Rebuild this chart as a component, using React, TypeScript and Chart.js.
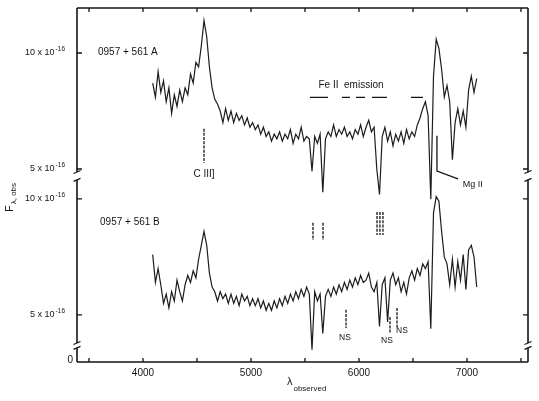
import React, { useEffect, useRef } from 'react';
import { Chart, registerables } from 'chart.js';

Chart.register(...registerables);

// ---------- data (flux in units of 1e-16, wavelength in Å) ----------
const LAMBDA = [
  4090, 4115, 4140, 4165, 4190, 4215, 4240, 4265, 4290, 4315,
  4340, 4365, 4390, 4415, 4440, 4465, 4490, 4515, 4540, 4565,
  4590, 4615, 4640, 4665, 4690, 4715, 4740, 4765, 4790, 4815,
  4840, 4865, 4890, 4915, 4940, 4965, 4990, 5015, 5040, 5065,
  5090, 5115, 5140, 5165, 5190, 5215, 5240, 5265, 5290, 5315,
  5340, 5365, 5390, 5415, 5440, 5465, 5490, 5515, 5540, 5565,
  5590, 5615, 5640, 5665, 5690, 5715, 5740, 5765, 5790, 5815,
  5840, 5865, 5890, 5915, 5940, 5965, 5990, 6015, 6040, 6065,
  6090, 6115, 6140, 6165, 6190, 6215, 6240, 6265, 6290, 6315,
  6340, 6365, 6390, 6415, 6440, 6465, 6490, 6515, 6540, 6565,
  6590, 6615, 6640, 6665, 6690, 6715, 6740, 6765, 6790, 6815,
  6840, 6865, 6890, 6915, 6940, 6965, 6990, 7015, 7040, 7065,
  7090,
];

// 0957+561 A (upper panel)
const FLUX_A = [
  8.7, 8.1, 9.2, 8.3, 8.8, 7.9, 8.5, 7.4, 8.2, 7.7,
  8.4, 7.9, 8.5, 8.2, 9.1, 8.7, 9.6, 9.4, 10.3, 11.4,
  10.7, 9.4, 8.5, 8.0, 7.8, 7.5, 7.0, 7.6, 7.1, 7.5,
  7.0, 7.4, 7.1, 7.3, 6.9, 7.2, 6.8, 7.0, 6.7, 6.9,
  6.5, 6.8, 6.4, 6.6, 6.2, 6.5, 6.3, 6.6, 6.2, 6.5,
  6.3, 6.7, 6.1, 6.5, 6.3, 6.8, 6.2, 6.4, 6.3, 4.9,
  6.4, 6.1, 6.5, 4.0, 6.3, 6.6, 6.4, 6.9, 6.4, 6.7,
  6.5, 6.8, 6.4, 6.6, 6.3, 6.7, 6.5, 6.9, 6.4, 6.8,
  7.1, 6.6, 6.8, 5.0, 3.9, 6.4, 6.8, 6.2, 6.6, 6.0,
  6.5, 6.2, 6.6, 6.1, 6.7, 6.3, 6.6, 6.4, 6.9, 7.2,
  7.6, 7.9, 7.3, 3.7, 9.0, 10.6, 10.2, 9.3, 8.1, 8.6,
  7.9, 5.4, 7.0, 7.6, 6.9, 7.5, 6.8, 8.4, 9.0, 8.3,
  8.9,
];

// 0957+561 B (lower panel)
const FLUX_B = [
  7.6, 6.4, 7.0, 6.3, 5.5, 5.9, 5.3, 6.0, 5.6, 6.5,
  6.0, 5.6, 6.3, 6.7, 6.4, 6.9, 6.6, 7.4, 8.0, 8.6,
  8.0, 6.8, 6.2, 6.0, 5.6, 6.0, 5.7, 5.9, 5.5, 5.9,
  5.5, 5.8, 5.4, 5.9, 5.6, 5.8, 5.4, 5.7, 5.4, 5.7,
  5.3, 5.6, 5.2, 5.5, 5.2, 5.6, 5.3, 5.7, 5.4, 5.8,
  5.5, 5.9, 5.6, 6.0, 5.7, 6.1, 5.8, 6.2, 5.9, 3.5,
  6.0, 5.6, 5.9, 4.2, 5.8, 6.1, 5.8, 6.2, 5.9, 6.3,
  6.0, 6.4, 6.1, 6.5, 6.2, 6.6, 6.3, 6.7, 6.4, 6.5,
  6.8, 6.2, 6.0, 6.4, 4.5, 6.3, 6.6, 4.7, 6.5, 6.8,
  6.3, 6.6, 6.0, 6.4, 5.9, 6.6, 6.9, 6.5, 7.0, 6.7,
  7.2, 7.0, 7.3, 4.4, 9.4, 10.1, 9.9, 8.6, 7.5, 7.2,
  6.3, 7.4, 6.2, 7.3, 6.5, 7.6, 6.1, 7.8, 8.0, 7.5,
  6.2,
];

// axis definitions
const X_MIN = 3389;
const X_MAX = 7565;
const X_TICKS = [3500, 4000, 4500, 5000, 5500, 6000, 6500, 7000, 7500];
const X_LABELS = [4000, 5000, 6000, 7000];
const Y_TICKS = [5, 10]; // per panel, units of 1e-16
const PANEL_A_SHIFT = 6.29; // upper panel drawn above lower on a shared broken axis
const ZERO_AT = 2.97; // where the broken axis shows "0" for the lower panel
const Y_TOP = 18.23;
const AXIS_GAPS = [[10.82, 11.16], [3.58, 3.79]];

// annotations (x in Å, y in flux of the given panel)
const PANEL_NAMES = [
  { text: '0957 + 561 A', panel: 'A', x: 3583, y: 10.04 },
  { text: '0957 + 561 B', panel: 'B', x: 3602, y: 9.0 },
];
const FE_TEXT = { text: 'Fe II  emission', panel: 'A', x: 5926, y: 8.6 };
const FE_BLENDS = [[5546, 5713], [5843, 5917], [5972, 6056], [6120, 6259], [6481, 6593]];
const FE_BLEND_Y = 8.09;
const CIII_MARK = { x: 4565, y0: 6.74, y1: 5.26, label: 'C III]', ly: 4.78 };
const MGII_MARK = { x: 6722, y0: 6.43, y1: 4.91, x2: 6917, y2: 4.57, label: 'Mg II', lx: 6960, ly: 4.35 };
const B_ABS_MARKS = [
  { x: 5574, y0: 8.97, y1: 8.23 },
  { x: 5667, y0: 8.97, y1: 8.23 },
  { x: 6167, y0: 9.44, y1: 8.45 },
  { x: 6194, y0: 9.44, y1: 8.45 },
  { x: 6222, y0: 9.44, y1: 8.45 },
];
const NS_MARKS = [
  { x: 5880, y0: 5.22, y1: 4.44, lx: 5870, ly: 4.02 },
  { x: 6287, y0: 4.91, y1: 4.22, lx: 6259, ly: 3.9 },
  { x: 6352, y0: 5.3, y1: 4.48, lx: 6398, ly: 4.3 },
];

const FONT = '"Liberation Sans", "DejaVu Sans", sans-serif';
const INK = '#141414';

const decor = {
  id: 'decor',
  afterDraw(chart: any) {
    const { ctx, chartArea: ca, scales } = chart;
    const xs = scales.x;
    const ys = scales.y;
    const X = (l: number) => xs.getPixelForValue(l);
    const Yd = (d: number) => ys.getPixelForValue(d);
    const YP = (panel: string, v: number) => Yd(panel === 'A' ? v + PANEL_A_SHIFT : v);

    ctx.save();
    ctx.strokeStyle = INK;
    ctx.fillStyle = INK;
    ctx.lineCap = 'butt';

    // frame with broken vertical axes
    ctx.lineWidth = 1.6;
    ctx.beginPath();
    ctx.moveTo(ca.left, ca.top); ctx.lineTo(ca.right, ca.top);
    ctx.moveTo(ca.left, ca.bottom); ctx.lineTo(ca.right, ca.bottom);
    ctx.stroke();
    const segs: number[][] = [];
    let start = ca.top;
    AXIS_GAPS.forEach(([lo, hi]) => {
      segs.push([start, Yd(hi)]);
      start = Yd(lo);
    });
    segs.push([start, ca.bottom]);
    [ca.left, ca.right].forEach((x) => {
      ctx.beginPath();
      segs.forEach(([a, b]) => { ctx.moveTo(x, a); ctx.lineTo(x, b); });
      ctx.stroke();
      ctx.lineWidth = 1.2;
      ctx.beginPath();
      AXIS_GAPS.forEach(([lo, hi]) => {
        [Yd(lo), Yd(hi)].forEach((y) => {
          ctx.moveTo(x - 3.5, y + 1.5); ctx.lineTo(x + 3.5, y - 1.5);
        });
      });
      ctx.stroke();
      ctx.lineWidth = 1.6;
    });

    // inward ticks
    ctx.lineWidth = 1.3;
    ctx.beginPath();
    X_TICKS.forEach((t) => {
      const x = X(t);
      ctx.moveTo(x, ca.bottom); ctx.lineTo(x, ca.bottom - 4);
      ctx.moveTo(x, ca.top); ctx.lineTo(x, ca.top + 4);
    });
    const yTickPix: number[] = [];
    Y_TICKS.forEach((v) => { yTickPix.push(YP('A', v)); yTickPix.push(YP('B', v)); });
    yTickPix.forEach((y) => {
      ctx.moveTo(ca.left, y); ctx.lineTo(ca.left + 5, y);
      ctx.moveTo(ca.right, y); ctx.lineTo(ca.right - 5, y);
    });
    ctx.stroke();

    // y tick labels
    const supLabel = (main: string, sup: string, xr: number, y: number) => {
      ctx.font = `9px ${FONT}`;
      const w1 = ctx.measureText(main).width;
      ctx.font = `6.5px ${FONT}`;
      const w2 = ctx.measureText(sup).width;
      const x0 = xr - w1 - w2 - 1;
      ctx.textAlign = 'left';
      ctx.textBaseline = 'middle';
      ctx.font = `9px ${FONT}`;
      ctx.fillText(main, x0, y);
      ctx.font = `6.5px ${FONT}`;
      ctx.fillText(sup, x0 + w1 + 1, y - 3.5);
    };
    ['A', 'B'].forEach((p) => {
      Y_TICKS.forEach((v) => {
        supLabel(`${v} x 10`, '-16', ca.left - 12, YP(p, v));
      });
    });
    ctx.font = `10px ${FONT}`;
    ctx.textAlign = 'right';
    ctx.textBaseline = 'middle';
    ctx.fillText('0', ca.left - 4, Yd(ZERO_AT) - 2);

    // y axis title (rotated)
    ctx.save();
    ctx.translate(13, 212);
    ctx.rotate(-Math.PI / 2);
    ctx.textAlign = 'left';
    ctx.textBaseline = 'alphabetic';
    ctx.font = `11px ${FONT}`;
    ctx.fillText('F', 0, 0);
    const fw = ctx.measureText('F').width;
    ctx.font = `8px ${FONT}`;
    ctx.fillText('λ, obs', fw + 1, 3);
    ctx.restore();

    // x axis title
    ctx.textAlign = 'left';
    ctx.textBaseline = 'alphabetic';
    ctx.font = `11px ${FONT}`;
    const lx = X(5333);
    ctx.fillText('λ', lx, ca.bottom + 23);
    const lw = ctx.measureText('λ').width;
    ctx.font = `8px ${FONT}`;
    ctx.fillText('observed', lx + lw + 1, ca.bottom + 29);

    // panel names
    ctx.font = `10px ${FONT}`;
    ctx.textBaseline = 'middle';
    PANEL_NAMES.forEach((n) => ctx.fillText(n.text, X(n.x), YP(n.panel, n.y)));

    // Fe II emission
    ctx.textAlign = 'center';
    ctx.font = `10px ${FONT}`;
    ctx.fillText(FE_TEXT.text, X(FE_TEXT.x), YP(FE_TEXT.panel, FE_TEXT.y));
    ctx.lineWidth = 1.3;
    ctx.beginPath();
    FE_BLENDS.forEach(([a, b]) => {
      const y = YP('A', FE_BLEND_Y);
      ctx.moveTo(X(a), y); ctx.lineTo(X(b), y);
    });
    ctx.stroke();

    // dashed vertical markers
    const vmark = (panel: string, x: number, y0: number, y1: number) => {
      ctx.setLineDash([3, 1.2]);
      ctx.lineWidth = 1.3;
      ctx.beginPath();
      ctx.moveTo(X(x), YP(panel, y0));
      ctx.lineTo(X(x), YP(panel, y1));
      ctx.stroke();
      ctx.setLineDash([]);
    };
    vmark('A', CIII_MARK.x, CIII_MARK.y0, CIII_MARK.y1);
    ctx.font = `10px ${FONT}`;
    ctx.textAlign = 'center';
    ctx.fillText(CIII_MARK.label, X(CIII_MARK.x), YP('A', CIII_MARK.ly));

    B_ABS_MARKS.forEach((m) => vmark('B', m.x, m.y0, m.y1));
    NS_MARKS.forEach((m) => {
      vmark('B', m.x, m.y0, m.y1);
      ctx.font = `8.5px ${FONT}`;
      ctx.textAlign = 'center';
      ctx.fillText('NS', X(m.lx), YP('B', m.ly));
    });

    // Mg II pointer
    ctx.lineWidth = 1.3;
    ctx.beginPath();
    ctx.moveTo(X(MGII_MARK.x), YP('A', MGII_MARK.y0));
    ctx.lineTo(X(MGII_MARK.x), YP('A', MGII_MARK.y1));
    ctx.lineTo(X(MGII_MARK.x2), YP('A', MGII_MARK.y2));
    ctx.stroke();
    ctx.font = `9px ${FONT}`;
    ctx.textAlign = 'left';
    ctx.fillText(MGII_MARK.label, X(MGII_MARK.lx), YP('A', MGII_MARK.ly));

    ctx.restore();
  },
};

export default function App() {
  const ref = useRef<HTMLCanvasElement>(null);
  useEffect(() => {
    const canvas = ref.current;
    if (!canvas) return;
    const dataA = LAMBDA.map((l, i) => ({ x: l, y: FLUX_A[i] + PANEL_A_SHIFT }));
    const dataB = LAMBDA.map((l, i) => ({ x: l, y: FLUX_B[i] }));
    const chart = new Chart(canvas, {
      type: 'line',
      data: {
        datasets: [
          { label: '0957+561 A', data: dataA, borderColor: '#1c1c1c', borderWidth: 1.2, pointRadius: 0, tension: 0, fill: false },
          { label: '0957+561 B', data: dataB, borderColor: '#1c1c1c', borderWidth: 1.2, pointRadius: 0, tension: 0, fill: false },
        ],
      },
      options: {
        responsive: false,
        animation: false,
        devicePixelRatio: 1,
        layout: { padding: { top: 8, left: 0, right: 0, bottom: 0 } },
        plugins: { legend: { display: false }, tooltip: { enabled: false } },
        scales: {
          x: {
            type: 'linear',
            min: X_MIN,
            max: X_MAX,
            afterFit: (s: any) => { s.height = 39; },
            afterBuildTicks: (s: any) => { s.ticks = X_TICKS.map((v) => ({ value: v })); },
            ticks: {
              autoSkip: false,
              maxRotation: 0,
              padding: 5,
              color: INK,
              font: { family: FONT, size: 10 },
              callback: (v: any) => (X_LABELS.includes(Number(v)) ? String(v) : ''),
            },
            grid: { display: false, drawTicks: false },
            border: { display: false },
          },
          y: {
            type: 'linear',
            position: 'left',
            min: ZERO_AT,
            max: Y_TOP,
            afterFit: (s: any) => { s.width = 77; },
            ticks: { display: false },
            grid: { display: false, drawTicks: false },
            border: { display: false },
          },
          y2: {
            type: 'linear',
            position: 'right',
            min: ZERO_AT,
            max: Y_TOP,
            afterFit: (s: any) => { s.width = 11; },
            ticks: { display: false },
            grid: { display: false, drawTicks: false },
            border: { display: false },
          },
        },
      },
      plugins: [decor],
    });
    return () => chart.destroy();
  }, []);
  return (
    <div style={{ position: 'absolute', left: 0, top: 0, width: 539, height: 401, background: '#fff' }}>
      <canvas ref={ref} width={539} height={401} style={{ width: 539, height: 401, display: 'block' }} />
    </div>
  );
}
